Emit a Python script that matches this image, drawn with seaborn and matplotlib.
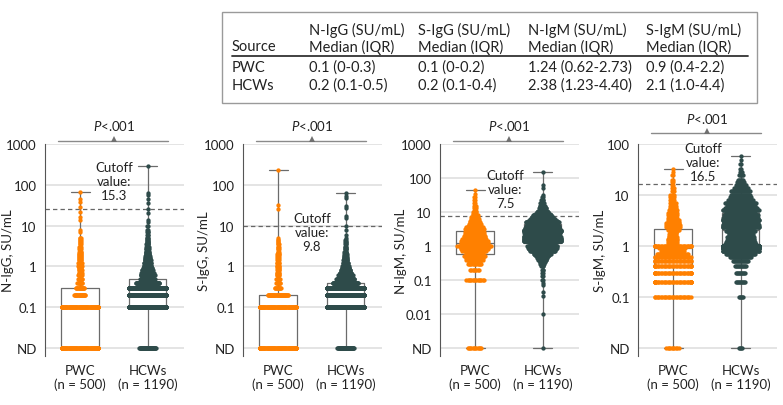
import numpy as np
import pandas as pd
import matplotlib
matplotlib.use("Agg")
import matplotlib.pyplot as plt
import matplotlib.ticker as mticker
import matplotlib.transforms as mtransforms
from matplotlib.lines import Line2D
from matplotlib.patches import Rectangle
import seaborn as sns

# ---- data (0 = not detected) ----
groups = ["PWC", "HCWs"]
group_n = [500, 1190]
group_colors = {"PWC": "#FF8000", "HCWs": "#2E4B4A"}

nigg_pwc_vals = [0, 0.1, 0.2, 0.3, 0.4, 0.5, 0.6, 0.7, 0.8, 0.9, 1.0, 1.2, 1.4, 1.6, 1.8, 2.0,
                 2.3, 2.6, 3.0, 3.5, 4.0, 4.5, 5.0, 7, 8, 14, 16, 22, 28, 37, 45, 65]
nigg_pwc_counts = [160, 180, 22, 17, 10, 9, 8, 7, 7, 6, 8, 8, 6, 6, 6, 6,
                   5, 4, 4, 3, 3, 3, 3, 1, 1, 1, 1, 1, 1, 1, 1, 1]
nigg_hcw_vals = [0, 0.1, 0.2, 0.3, 0.4, 0.5, 0.6, 0.7, 0.8, 0.9, 1.0, 1.2, 1.4, 1.6, 1.8, 2.0,
                 2.3, 2.6, 3.0, 3.5, 4.0, 4.5, 5.0, 6, 7, 8, 10, 12, 14, 20, 26, 35, 46, 55, 62, 290]
nigg_hcw_counts = [45, 320, 290, 140, 65, 40, 39, 35, 30, 25, 22, 20, 17, 15, 13, 11,
                   10, 8, 7, 6, 5, 4, 4, 3, 3, 2, 2, 1, 1, 1, 1, 1, 1, 1, 1, 1]

sigg_pwc_vals = [0, 0.1, 0.2, 0.3, 0.4, 0.5, 0.6, 0.7, 0.8, 0.9, 1.0, 1.2, 1.4, 1.6, 1.8, 2.0,
                 2.3, 2.6, 3.0, 3.5, 4.0, 4.5, 5.0, 26, 32, 230]
sigg_pwc_counts = [200, 160, 40, 12, 9, 8, 6, 6, 5, 5, 6, 6, 4, 4, 4, 5,
                   3, 3, 3, 3, 2, 2, 1, 1, 1, 1]
sigg_hcw_vals = [0, 0.1, 0.2, 0.3, 0.4, 0.5, 0.6, 0.7, 0.8, 0.9, 1.0, 1.2, 1.4, 1.6, 1.8, 2.0,
                 2.3, 2.6, 3.0, 3.5, 4.0, 4.5, 5.0, 5.9, 8, 9.6, 15, 17, 27, 31, 47, 54, 62]
sigg_hcw_counts = [45, 400, 250, 150, 70, 50, 40, 33, 27, 21, 18, 15, 12, 10, 8, 7,
                   6, 5, 4, 3, 3, 2, 1, 1, 1, 1, 1, 1, 1, 1, 1, 1, 1]

nigm_pwc_vals = [0, 0.1, 0.2, 0.3, 0.35, 0.4, 0.45, 0.5, 0.55, 0.6, 0.7, 0.8, 0.9, 1.0, 1.1, 1.2,
                 1.4, 1.6, 1.8, 2.0, 2.2, 2.5, 2.8, 3.2, 3.6, 4.0, 4.5, 5.0, 5.6, 6.3, 7.1, 8.0,
                 9.0, 10, 11, 13, 15, 18, 22, 27, 33, 45]
nigm_pwc_counts = [12, 15, 8, 12, 10, 14, 14, 18, 12, 14, 20, 22, 22, 28, 20, 22,
                   22, 20, 18, 18, 16, 16, 14, 16, 14, 12, 11, 9, 8, 7, 6, 5,
                   4, 4, 3, 3, 3, 2, 2, 2, 1, 1]
nigm_hcw_vals = [0, 0.01, 0.035, 0.045, 0.07, 0.08, 0.1, 0.13, 0.16, 0.2, 0.25, 0.3, 0.35, 0.4,
                 0.45, 0.5, 0.55, 0.6, 0.7, 0.8, 0.9, 1.0, 1.1, 1.2, 1.4, 1.6, 1.8, 2.0, 2.2, 2.4,
                 2.7, 3.0, 3.3, 3.6, 4.0, 4.4, 5.0, 5.6, 6.3, 7.1, 8.0, 9.0, 10, 11, 13, 15, 18,
                 22, 27, 32, 50, 62, 150]
nigm_hcw_counts = [1, 1, 1, 1, 1, 1, 2, 2, 2, 3, 4, 6, 8, 12,
                   14, 18, 20, 24, 35, 38, 40, 42, 20, 35, 55, 55, 52, 50, 48, 50,
                   55, 52, 48, 45, 45, 40, 46, 41, 35, 30, 26, 21, 17, 13, 11, 8, 6,
                   4, 2, 1, 1, 1, 1]

sigm_pwc_vals = [0, 0.1, 0.2, 0.3, 0.4, 0.5, 0.6, 0.7, 0.8, 0.9, 1.0, 1.1, 1.2, 1.3, 1.4, 1.5,
                 1.6, 1.7, 1.8, 1.9, 2.0, 2.1, 2.2, 2.4, 2.6, 2.8, 3.0, 3.3, 3.6, 4.0, 4.4, 5.0,
                 5.5, 6.0, 7.0, 8.0, 9.0, 10, 12, 14, 16, 18, 20, 25, 28, 33]
sigm_pwc_counts = [10, 28, 40, 36, 34, 30, 28, 24, 18, 20, 32, 8, 8, 8, 8, 7,
                   6, 6, 5, 5, 6, 4, 5, 11, 11, 10, 9, 9, 8, 8, 8, 7,
                   5, 5, 5, 4, 4, 4, 3, 3, 2, 2, 2, 2, 1, 1]
sigm_hcw_vals = [0, 0.1, 0.2, 0.3, 0.4, 0.5, 0.6, 0.7, 0.8, 0.9, 1.0, 1.1, 1.2, 1.3, 1.4, 1.5,
                 1.6, 1.7, 1.8, 1.9, 2.0, 2.1, 2.2, 2.4, 2.6, 2.8, 3.0, 3.3, 3.6, 4.0, 4.4, 5.0,
                 5.5, 6.0, 7.0, 8.0, 9.0, 10, 12, 14, 16, 18, 20, 25, 28, 33, 40, 48, 58]
sigm_hcw_counts = [4, 5, 10, 10, 12, 16, 22, 30, 40, 50, 110, 32, 30, 28, 27, 28,
                   25, 25, 24, 23, 30, 25, 22, 40, 38, 35, 34, 40, 36, 35, 30, 38,
                   33, 29, 32, 26, 22, 20, 20, 15, 11, 8, 6, 5, 3, 2, 2, 1, 1]

panel_labels = ["N-IgG, SU/mL", "S-IgG, SU/mL", "N-IgM, SU/mL", "S-IgM, SU/mL"]
cutoff_text = ["15.3", "9.8", "7.5", "16.5"]
cutoff_line = [25, 9.8, 7.5, 16.5]

table_cols = ["N-IgG (SU/mL)", "S-IgG (SU/mL)", "N-IgM (SU/mL)", "S-IgM (SU/mL)"]
table_pwc = ["0.1 (0-0.3)", "0.1 (0-0.2)", "1.24 (0.62-2.73)", "0.9 (0.4-2.2)"]
table_hcw = ["0.2 (0.1-0.5)", "0.2 (0.1-0.4)", "2.38 (1.23-4.40)", "2.1 (1.0-4.4)"]

# ---- style ----
sns.set_theme(style="white")
plt.rcParams["font.family"] = ["Lato", "DejaVu Sans"]
plt.rcParams["mathtext.fontset"] = "custom"
plt.rcParams["mathtext.it"] = "Lato:italic"
plt.rcParams["mathtext.rm"] = "Lato"
plt.rcParams["text.color"] = "#222222"
plt.rcParams["axes.labelcolor"] = "#222222"
plt.rcParams["xtick.color"] = "#222222"
plt.rcParams["ytick.color"] = "#222222"

W, H = 783, 406
fig = plt.figure(figsize=(W / 100, H / 100), dpi=100)

def fx(px):
    return px / W

def fy(py):
    return 1 - py / H

# dot = swarm spacing in px used for the layout (PWC, HCWs)
panels = [
    dict(vals=(nigg_pwc_vals, nigg_hcw_vals), counts=(nigg_pwc_counts, nigg_hcw_counts),
         nd=0.01, top=1000, left=45, dot=(0.5, 0.35), half=0.27, p_y=(1.014, 1.09),
         cut_xy=(0.5, 0.825), ylab_x=-0.266),
    dict(vals=(sigg_pwc_vals, sigg_hcw_vals), counts=(sigg_pwc_counts, sigg_hcw_counts),
         nd=0.01, top=1000, left=243, dot=(0.5, 0.35), half=0.27, p_y=(1.014, 1.09),
         cut_xy=(0.5, 0.585), ylab_x=-0.28),
    dict(vals=(nigm_pwc_vals, nigm_hcw_vals), counts=(nigm_pwc_counts, nigm_hcw_counts),
         nd=0.001, top=1000, left=440, dot=(1.2, 0.7), half=0.28, p_y=(1.014, 1.09),
         cut_xy=(0.45, 0.79), ylab_x=-0.28),
    dict(vals=(sigm_pwc_vals, sigm_hcw_vals), counts=(sigm_pwc_counts, sigm_hcw_counts),
         nd=0.01, top=100, left=638, dot=(1.3, 0.95), half=0.267, p_y=(1.052, 1.121),
         cut_xy=(0.45, 0.915), ylab_x=-0.273),
]

axes = []
for i, p in enumerate(panels):
    ax = fig.add_axes([fx(p["left"]), fy(357), 139 / W, 212 / H])
    axes.append(ax)
    parts = []
    for g, v, c in zip(groups, p["vals"], p["counts"]):
        parts.append(pd.DataFrame({"group": g, "value": np.repeat(v, c)}))
    df = pd.concat(parts, ignore_index=True)
    df["pos"] = df["value"].where(df["value"] > 0, p["nd"])

    sns.boxplot(data=df, x="group", y="pos", order=groups, whis=(0, 100), width=0.56,
                fill=False, color="0.42", linewidth=0.9, showfliers=False,
                log_scale=True, ax=ax)
    for g, d in zip(groups, p["dot"]):
        sns.swarmplot(data=df[df["group"] == g], x="group", y="pos", order=groups,
                      color=group_colors[g], size=d * 0.72, linewidth=0, log_scale=True,
                      warn_thresh=1, ax=ax)

    decade_px = 204 / np.log10(p["top"] / p["nd"])
    ax.set_ylim(p["nd"] * 10 ** (-8 / decade_px), p["top"])
    ax.set_xlim(-0.52, 1.54)
    ticks = [p["nd"]] + [10.0 ** k for k in range(int(np.log10(p["nd"])) + 1, int(np.log10(p["top"])) + 1)]
    labels = ["ND"] + [f"{t:g}" for t in ticks[1:]]
    ax.set_yticks(ticks)
    ax.set_yticklabels(labels)
    ax.yaxis.set_minor_locator(mticker.LogLocator(base=10, subs=np.arange(2, 10), numticks=30))
    ax.yaxis.set_minor_formatter(mticker.NullFormatter())
    ax.grid(axis="y", which="major", color="#dcdcdc", lw=1.1)
    ax.set_axisbelow(True)
    for s in ["top", "right", "bottom"]:
        ax.spines[s].set_visible(False)
    ax.spines["left"].set_color("#555555")
    ax.spines["left"].set_linewidth(0.8)
    ax.tick_params(axis="y", which="major", length=4, width=0.8, color="#555555", labelsize=9.5, pad=2)
    ax.tick_params(axis="y", which="minor", length=2.2, width=0.6, color="#555555")
    ax.tick_params(axis="x", length=0, labelsize=9.5, pad=6)
    ax.set_xticks([0, 1])
    ax.set_xticklabels([f"{g}\n(n = {n})" for g, n in zip(groups, group_n)], linespacing=1.15)
    ax.set_xlabel("")
    ax.set_ylabel(panel_labels[i], fontsize=9.5)
    ax.yaxis.label.set_va("center")
    ax.yaxis.set_label_coords(p["ylab_x"], 0.5)

    # cutoff
    ax.axhline(cutoff_line[i], color="#666666", lw=0.9, ls=(0, (3.5, 2.5)), zorder=1.5)
    trans = mtransforms.blended_transform_factory(ax.transData, ax.transAxes)
    ax.text(p["cut_xy"][0], p["cut_xy"][1], f"Cutoff\nvalue:\n{cutoff_text[i]}", transform=trans,
            ha="center", va="center", fontsize=9.5, linespacing=1.2)

    # P value bracket
    yb, yp = p["p_y"]
    ax.plot([-0.32, 1.3], [yb, yb], transform=trans, color="#8a8a8a", lw=1, clip_on=False)
    tri = mtransforms.offset_copy(trans, fig=fig, y=2.2, units="dots")
    ax.plot([0.5], [yb], marker="^", ms=5, color="#707070", mew=0, transform=tri, clip_on=False)
    ax.text(0.5, yp, r"$\mathit{P}$<.001", transform=trans, ha="center", va="center", fontsize=9.5)

# ---- summary table ----
tfs = 10.5
fig.add_artist(Rectangle((fx(222), fy(104)), fx(757) - fx(222), fy(13) - fy(104),
                         transform=fig.transFigure, fill=False, ec="#9a9a9a", lw=1))
fig.add_artist(Line2D([fx(232), fx(748)], [fy(57), fy(57)], transform=fig.transFigure,
                      color="#333333", lw=1.3))
col_x = [309, 418, 528, 646]
fig.text(fx(232), fy(47), "Source", va="center", fontsize=tfs)
fig.text(fx(232), fy(68), groups[0], va="center", fontsize=tfs)
fig.text(fx(232), fy(86), groups[1], va="center", fontsize=tfs)
for x, head, a, b in zip(col_x, table_cols, table_pwc, table_hcw):
    fig.text(fx(x), fy(30), head, va="center", fontsize=tfs)
    fig.text(fx(x), fy(47), "Median (IQR)", va="center", fontsize=tfs)
    fig.text(fx(x), fy(68), a, va="center", fontsize=tfs)
    fig.text(fx(x), fy(86), b, va="center", fontsize=tfs)

# run the swarm layout once, then freeze it and set the final dot size
fig.canvas.draw()
for ax, p in zip(axes, panels):
    for coll in ax.collections:
        if "draw" in coll.__dict__:
            del coll.draw
            off = np.asarray(coll.get_offsets(), dtype=float)
            cx = np.round(np.median(off[:, 0]))
            off[:, 0] = cx + np.clip(off[:, 0] - cx, -p["half"], p["half"])
            coll.set_offsets(off)
            coll.set_sizes([9.6])
            coll.set_zorder(3)

fig.savefig("out.png", dpi=100)
